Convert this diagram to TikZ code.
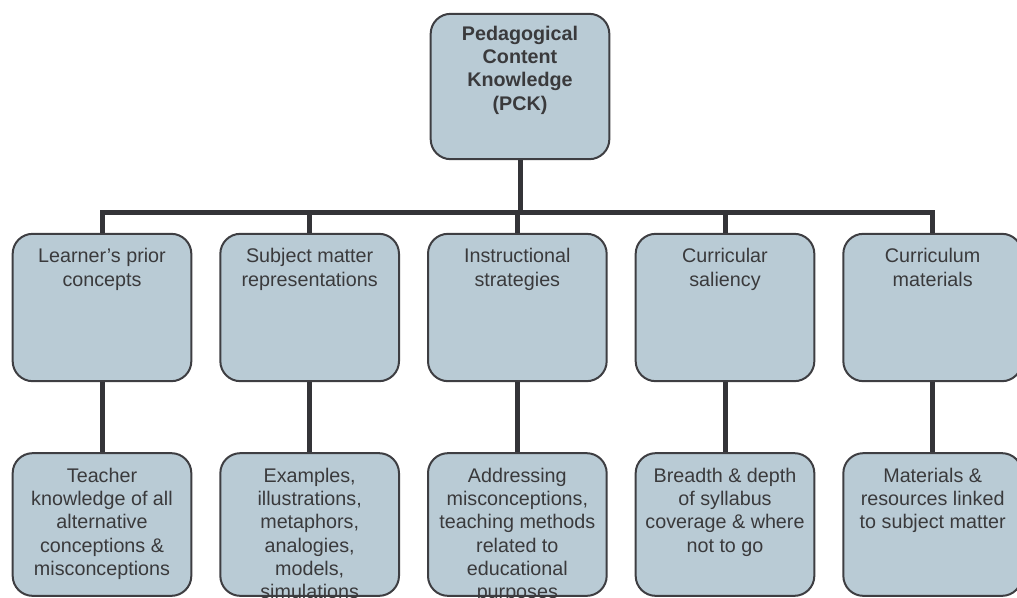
\documentclass[tikz,border=0pt]{standalone}
\usepackage{fontspec}
\setmainfont{Liberation Sans}
\usetikzlibrary{positioning}
\definecolor{boxfill}{RGB}{185,203,213}
\definecolor{boxline}{RGB}{62,62,66}
\definecolor{textgray}{RGB}{58,58,60}
\definecolor{linegray}{RGB}{52,52,56}
\newcommand{\boxfont}{\fontsize{14.8}{17.5}\selectfont}
\tikzset{
    pckbox/.style = {
        rectangle,
        rounded corners=15pt,
        draw=boxline,
        line width=1.5pt,
        fill=boxfill,
        minimum width=134pt,
        minimum height=109pt
    },
    catbox/.style = {
        pckbox,
        minimum height=110.5pt
    },
    detailbox/.style = {
        pckbox,
        minimum height=107pt
    },
    boxlabel/.style = {
        anchor=north,
        inner sep=0pt,
        align=center,
        text=textgray,
        font=\boxfont
    },
    connector/.style = {
        line width=3.75pt,
        draw=linegray
    }
}

\begin{document}
\begin{tikzpicture}[x=0.75pt,y=-0.75pt]
\clip (0,0) rectangle (1017,597);
\node (pck) [pckbox] at (520,86.5) {};
\node (lpc) [catbox] at (102,307.5) {};
\node (smr) [catbox,right=20.25pt of lpc] {};
\node (ins) [catbox,right=20.25pt of smr] {};
\node (cus) [catbox,right=20.25pt of ins] {};
\node (cmat) [catbox,right=20.25pt of cus] {};
\node (tka) [detailbox,below=52.5pt of lpc] {};
\node (exm) [detailbox,below=52.5pt of smr] {};
\node (adm) [detailbox,below=52.5pt of ins] {};
\node (bdc) [detailbox,below=52.5pt of cus] {};
\node (mat) [detailbox,below=52.5pt of cmat] {};

\node (pck-t) [boxlabel,font=\boxfont\bfseries,below=9.5pt of pck.north] {Pedagogical\\Content\\Knowledge\\(PCK)};
\node (lpc-t) [boxlabel,below=11.5pt of lpc.north] {Learner’s prior\\concepts};
\node (smr-t) [boxlabel,below=11.5pt of smr.north] {Subject matter\\representations};
\node (ins-t) [boxlabel,below=11.5pt of ins.north] {Instructional\\strategies};
\node (cus-t) [boxlabel,below=11.5pt of cus.north] {Curricular\\saliency};
\node (cmat-t) [boxlabel,below=11.5pt of cmat.north] {Curriculum\\materials};
\node (tka-t) [boxlabel,below=11.5pt of tka.north] {Teacher\\knowledge of all\\alternative\\conceptions \&\\misconceptions};
\node (exm-t) [boxlabel,below=11.5pt of exm.north] {Examples,\\illustrations,\\metaphors,\\analogies,\\models,\\simulations};
\node (adm-t) [boxlabel,below=11.5pt of adm.north] {Addressing\\misconceptions,\\teaching methods\\related to\\educational\\purposes};
\node (bdc-t) [boxlabel,below=11.5pt of bdc.north] {Breadth \& depth\\of syllabus\\coverage \& where\\not to go};
\node (mat-t) [boxlabel,below=11.5pt of mat.north] {Materials \&\\resources linked\\to subject matter};

% tree lines
\coordinate (bus) at (520,212);
\draw[connector] (pck.south) -- (pck.south |- bus);
\draw[connector] (lpc.north) -- (lpc.north |- bus) -- (cmat.north |- bus) -- (cmat.north);
\foreach \n in {smr,ins,cus}
    \draw[connector] (\n.north) -- (\n.north |- bus);
\foreach \a/\b in {lpc/tka,smr/exm,ins/adm,cus/bdc,cmat/mat}
    \draw[connector] (\a.south) -- (\b.north);
\end{tikzpicture}
\end{document}
